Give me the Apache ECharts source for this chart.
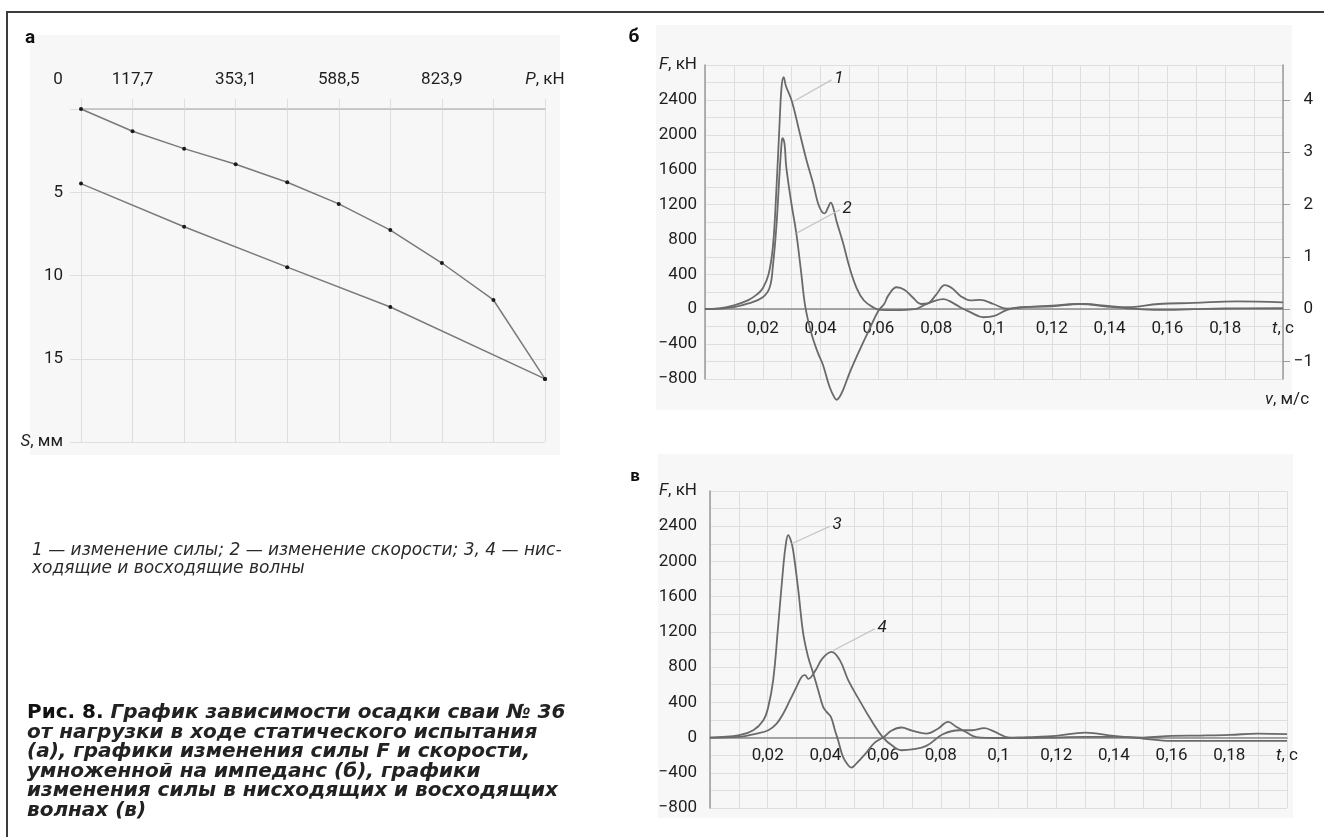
<!DOCTYPE html>
<html>
<head>
<meta charset="utf-8">
<title>Рис. 8</title>
<script src="https://cdn.jsdelivr.net/npm/echarts@6/dist/echarts.min.js"></script>
<style>
  html, body { margin: 0; padding: 0; background: #fff; }
  #chart { width: 1324px; height: 837px; }
</style>
</head>
<body>
<div id="chart"></div>
<script>
// а: осадка сваи S (мм) от нагрузки P (кН)
var loadP = [0, 117.7, 235.4, 353.1, 470.8, 588.5, 706.2, 823.9, 941.6, 1059.3];
var loadS = [0, 1.34, 2.38, 3.32, 4.40, 5.70, 7.27, 9.25, 11.47, 16.21];
var unloadP = [1059.3, 706.2, 470.8, 235.4, 0];
var unloadS = [16.21, 11.89, 9.50, 7.07, 4.48];

// б: 1 - сила F (кН), 2 - скорость v (м/с)
var forceT = [0, 0.005, 0.01, 0.015, 0.018, 0.02, 0.022, 0.0235, 0.0247, 0.0258, 0.0265, 0.0272, 0.028,
  0.0301, 0.0328, 0.0351, 0.0374, 0.0391, 0.0405, 0.0414, 0.0425, 0.0435, 0.0445, 0.0454, 0.0478,
  0.05, 0.0525, 0.055, 0.0583, 0.0606, 0.065, 0.0732, 0.0755, 0.0795, 0.0825, 0.0845, 0.0883, 0.0918,
  0.0963, 0.0998, 0.1045, 0.109, 0.12, 0.13, 0.139, 0.146, 0.157, 0.169, 0.18, 0.2];
var forceF = [0, 10, 45, 105, 170, 240, 400, 720, 1370, 2130, 2550, 2660, 2560,
  2380, 2017, 1711, 1444, 1215, 1115, 1100, 1160, 1222, 1150, 1024, 756,
  480, 240, 100, 20, -8, -10, 4, 42, 95, 115, 95, 23, -34,
  -92, -80, -8, 23, 34, 61, 31, 11, -8, 0, 8, 11];
var velT = [0, 0.005, 0.01, 0.015, 0.02, 0.0224, 0.0235, 0.0247, 0.0258, 0.0265, 0.0268, 0.0275, 0.0281,
  0.0299, 0.0316, 0.0333, 0.0347, 0.0368, 0.0391, 0.0408, 0.0431, 0.0449, 0.0456, 0.0465, 0.0478,
  0.05, 0.0535, 0.057, 0.06, 0.062, 0.0635, 0.0663, 0.069, 0.072, 0.0747, 0.077, 0.08, 0.083,
  0.0855, 0.0885, 0.0918, 0.0952, 0.0998, 0.1045, 0.1113, 0.12, 0.1298, 0.1401, 0.146, 0.157,
  0.169, 0.184, 0.2];
var velV = [0, 0.01, 0.04, 0.11, 0.23, 0.42, 0.83, 1.58, 2.6, 3.17, 3.27, 3.17, 2.73,
  2.02, 1.45, 0.69, 0.05, -0.46, -0.84, -1.06, -1.48, -1.70, -1.73, -1.68, -1.54,
  -1.22, -0.78, -0.37, -0.03, 0.1, 0.27, 0.42, 0.37, 0.22, 0.1, 0.11, 0.28, 0.46,
  0.4, 0.25, 0.17, 0.18, 0.1, 0.01, 0.04, 0.07, 0.1, 0.06, 0.04, 0.1,
  0.12, 0.15, 0.13];

// в: 3 - нисходящая волна, 4 - восходящая волна (кН)
var downT = [0, 0.0102, 0.015, 0.0185, 0.0202, 0.0219, 0.0236, 0.0254, 0.0263, 0.0271, 0.028, 0.0288,
  0.0306, 0.0323, 0.034, 0.0358, 0.0375, 0.0392, 0.0404, 0.0419, 0.0433, 0.0444, 0.0461, 0.0479,
  0.049, 0.0507, 0.054, 0.057, 0.06, 0.063, 0.0663, 0.07, 0.075, 0.079, 0.0825, 0.0855, 0.0888,
  0.0923, 0.1, 0.11, 0.12, 0.13, 0.14, 0.15, 0.16, 0.18, 0.2];
var downF = [0, 27, 83, 197, 349, 652, 1258, 1940, 2200, 2300, 2240, 2130,
  1675, 1182, 917, 728, 538, 349, 292, 235, 83, -30, -220, -315,
  -341, -296, -180, -60, 0, 80, 114, 80, 45, 100, 178, 120, 60,
  5, -5, 5, 19, 57, 19, -11, -38, -38, -38];
var upT = [0, 0.0102, 0.0161, 0.0202, 0.0231, 0.0254, 0.0277, 0.03, 0.0318, 0.0329, 0.0341, 0.0365,
  0.039, 0.0421, 0.045, 0.0479, 0.0519, 0.056, 0.06, 0.0635, 0.0663, 0.07, 0.075, 0.0807, 0.0865,
  0.091, 0.095, 0.098, 0.1038, 0.11, 0.12, 0.13, 0.14, 0.15, 0.16, 0.17, 0.18, 0.19, 0.2];
var upF = [0, 8, 45, 83, 159, 273, 424, 576, 690, 709, 667, 760,
  900, 974, 879, 652, 417, 190, 0, -100, -144, -135, -95, 38, 83,
  83, 106, 76, 0, -5, 0, 8, 8, 0, 19, 23, 30, 45, 38];

// выноски с номерами кривых: [начало на кривой, конец у номера]
var lead1 = [[0.0306, 2382], [0.0438, 2630]];
var lead2 = [[0.0317, 1.455], [0.0467, 1.9]];
var lead3 = [[0.0283, 2201], [0.0415, 2398]];
var lead4 = [[0.0427, 989], [0.0571, 1235]];

var FONT = 'Roboto, "DejaVu Sans", sans-serif';
var TEXTFONT = '"DejaVu Sans", "Noto Sans", sans-serif';
var TXT = '#1e1e1e', GRIDC = '#dedede', AXISC = '#9a9a9a', CURVE = '#6a6a6a', LEAD = '#c6c6c6';

function pairs(xs, ys) {
  return xs.map(function (x, i) { return [x, ys[i]]; });
}
function num(v) {
  return (v < 0 ? '\u2212' : '') + String(Math.abs(v)).replace('.', ',');
}
var italic = { fontStyle: 'italic', fontSize: 17, fontFamily: FONT, color: TXT };

function timeLabel(v) {
  var k = Math.round(v * 100);
  if (k === 20) return '{i|t}, с';
  if (k > 0 && k % 2 === 0) return num(+v.toFixed(2));
  return '';
}
function forceLabel(v) {
  if (v === 2800) return '{i|F}, кН';
  if (v % 400 === 0) return num(v);
  return '';
}
function leader(pts, text) {
  return {
    silent: true, symbol: ['none', 'none'], animation: false,
    lineStyle: { color: LEAD, width: 1.3, type: 'solid' },
    label: { show: true, position: 'end', distance: 3, formatter: text, fontStyle: 'italic',
      fontSize: 17, fontFamily: FONT, color: TXT },
    data: [[{ coord: pts[0] }, { coord: pts[1] }]]
  };
}
function curve(name, x, y, xi, yi, extra) {
  var s = {
    name: name, type: 'line', xAxisIndex: xi, yAxisIndex: yi, data: pairs(x, y),
    smooth: 0.4, showSymbol: false, clip: false,
    lineStyle: { color: CURVE, width: 1.8 }, itemStyle: { color: CURVE }
  };
  if (extra) s.markLine = extra;
  return s;
}

// ось времени лежит на нулевой линии силы (offset поднимает её от нижнего края сетки)
var timeAxis = function (gi, offset, margin) {
  return {
    type: 'value', gridIndex: gi, position: 'bottom', offset: offset,
    min: 0, max: 0.2, interval: 0.01,
    axisLine: { onZero: false, lineStyle: { color: '#8a8a8a', width: 1.5 } },
    axisTick: { show: false },
    splitLine: { lineStyle: { color: GRIDC, width: 1 } },
    axisLabel: { margin: margin, fontSize: 17, fontFamily: FONT, color: TXT, formatter: timeLabel,
      rich: { i: italic } }
  };
};
var forceAxis = function (gi, margin) {
  return {
    type: 'value', gridIndex: gi, position: 'left', min: -800, max: 2800, interval: 200,
    axisLine: { show: true, onZero: false, lineStyle: { color: AXISC, width: 1.5 } },
    axisTick: { show: false },
    splitLine: { lineStyle: { color: GRIDC, width: 1 } },
    axisLabel: { margin: margin, fontSize: 17, fontFamily: FONT, color: TXT, formatter: forceLabel,
      rich: { i: italic } }
  };
};

var capFont = 'italic bold 20px ' + TEXTFONT;

var option = {
  animation: false,
  backgroundColor: '#fff',
  grid: [
    { left: 81, top: 109, width: 464, height: 333 },
    { left: 705, top: 65, width: 578, height: 314 },
    { left: 710, top: 491, width: 577, height: 317 }
  ],
  xAxis: [
    {
      type: 'value', gridIndex: 0, position: 'top', min: 0, max: 1059.3, interval: 117.7,
      axisLine: { onZero: false, lineStyle: { color: '#bdbdbd', width: 1.5 } },
      axisTick: { show: true, length: 10, lineStyle: { color: GRIDC } },
      splitLine: { lineStyle: { color: GRIDC, width: 1 } },
      axisLabel: {
        margin: 21, fontSize: 17, fontFamily: FONT, color: TXT,
        formatter: function (v) {
          var k = Math.round(v / 117.7);
          if (k === 0) return '{z|0}';
          if (k === 9) return '{i|P}, кН';
          return k % 2 === 1 ? num(+v.toFixed(1)) : '';
        },
        rich: { i: italic, z: { fontSize: 17, fontFamily: FONT, color: TXT, padding: [0, 46, 0, 0] } }
      }
    },
    timeAxis(1, -69.8, 11),
    timeAxis(2, -70.4, 10)
  ],
  yAxis: [
    {
      type: 'value', gridIndex: 0, inverse: true, min: 0, max: 20, interval: 5,
      axisLine: { show: false, onZero: false },
      axisTick: { show: true, length: 11, lineStyle: { color: GRIDC } },
      splitLine: { lineStyle: { color: GRIDC, width: 1 } },
      axisLabel: {
        margin: 18, fontSize: 17, fontFamily: FONT, color: TXT,
        formatter: function (v) {
          if (v === 0) return '';
          if (v === 20) return '{i|S}, мм';
          return String(v);
        },
        rich: { i: italic }
      }
    },
    forceAxis(1, 8),
    {
      type: 'value', gridIndex: 1, position: 'right', min: -4 / 3, max: 14 / 3,
      axisLine: { show: true, onZero: false, lineStyle: { color: AXISC, width: 1.5 } },
      axisTick: { show: true, length: 7, customValues: [-1, 0, 1, 2, 3, 4], lineStyle: { color: AXISC } },
      splitLine: { show: false },
      axisLabel: { margin: 30, align: 'right', fontSize: 17, fontFamily: FONT, color: TXT,
        customValues: [-1, 0, 1, 2, 3, 4], formatter: function (v) { return num(v); } },
      name: '{i|v}, м/с', nameLocation: 'start', nameGap: 12,
      nameTextStyle: { fontSize: 17, fontFamily: FONT, color: TXT, align: 'center', padding: [0, 0, 0, 8],
        rich: { i: italic } }
    },
    forceAxis(2, 13)
  ],
  series: [
    {
      name: 'нагрузка', type: 'line', xAxisIndex: 0, yAxisIndex: 0, data: pairs(loadP, loadS),
      symbol: 'circle', symbolSize: 4, lineStyle: { color: '#7a7a7a', width: 1.5 },
      itemStyle: { color: '#1a1a1a' }
    },
    {
      name: 'разгрузка', type: 'line', xAxisIndex: 0, yAxisIndex: 0, data: pairs(unloadP, unloadS),
      symbol: 'circle', symbolSize: 4, lineStyle: { color: '#7a7a7a', width: 1.5 },
      itemStyle: { color: '#1a1a1a' }
    },
    curve('1', forceT, forceF, 1, 1, leader(lead1, '1')),
    curve('2', velT, velV, 1, 2, leader(lead2, '2')),
    curve('3', downT, downF, 2, 3, leader(lead3, '3')),
    curve('4', upT, upF, 2, 3, leader(lead4, '4'))
  ],
  graphic: [
    { type: 'rect', z: -10, shape: { x: 30, y: 35, width: 530, height: 420 }, style: { fill: '#f7f7f7' } },
    { type: 'rect', z: -10, shape: { x: 656, y: 25, width: 636, height: 385 }, style: { fill: '#f7f7f7' } },
    { type: 'rect', z: -10, shape: { x: 658, y: 454, width: 635, height: 364 }, style: { fill: '#f7f7f7' } },
    { type: 'polyline', z: 10, shape: { points: [[7, 837], [7, 12], [1324, 12]] },
      style: { stroke: '#3c3c3c', lineWidth: 2, fill: null } },
    { type: 'text', x: 30, y: 38, style: { text: 'а', font: 'bold 19px ' + FONT, fill: '#111',
      textAlign: 'center', textVerticalAlign: 'middle' } },
    { type: 'text', x: 634, y: 37, style: { text: 'б', font: 'bold 19px ' + FONT, fill: '#111',
      textAlign: 'center', textVerticalAlign: 'middle' } },
    { type: 'text', x: 635, y: 477, style: { text: 'в', font: 'bold 17px ' + FONT, fill: '#111',
      textAlign: 'center', textVerticalAlign: 'middle' } },
    { type: 'text', x: 32, y: 551, style: { text: '1 — изменение силы; 2 — изменение скорости; 3, 4 — нис-',
      font: 'italic 17px ' + TEXTFONT, fill: '#2a2a2a', textVerticalAlign: 'middle' } },
    { type: 'text', x: 32, y: 569, style: { text: 'ходящие и восходящие волны',
      font: 'italic 17px ' + TEXTFONT, fill: '#2a2a2a', textVerticalAlign: 'middle' } },
    { type: 'text', x: 27, y: 713, style: {
      text: '{b|Рис. 8. }{i|График зависимости осадки сваи № 36}',
      textVerticalAlign: 'middle',
      rich: {
        b: { font: 'bold 20px ' + TEXTFONT, fill: '#111' },
        i: { font: capFont, fill: '#222' }
      } } },
    { type: 'text', x: 27, y: 733, style: { text: 'от нагрузки в ходе статического испытания',
      font: capFont, fill: '#222', textVerticalAlign: 'middle' } },
    { type: 'text', x: 27, y: 752, style: { text: '(а), графики изменения силы F и скорости,',
      font: capFont, fill: '#222', textVerticalAlign: 'middle' } },
    { type: 'text', x: 27, y: 772, style: { text: 'умноженной на импеданс (б), графики',
      font: capFont, fill: '#222', textVerticalAlign: 'middle' } },
    { type: 'text', x: 27, y: 791, style: { text: 'изменения силы в нисходящих и восходящих',
      font: capFont, fill: '#222', textVerticalAlign: 'middle' } },
    { type: 'text', x: 27, y: 811, style: { text: 'волнах (в)',
      font: capFont, fill: '#222', textVerticalAlign: 'middle' } }
  ]
};

var chart = echarts.init(document.getElementById('chart'));
chart.setOption(option);
window.addEventListener('resize', function () { chart.resize(); });
</script>
</body>
</html>
